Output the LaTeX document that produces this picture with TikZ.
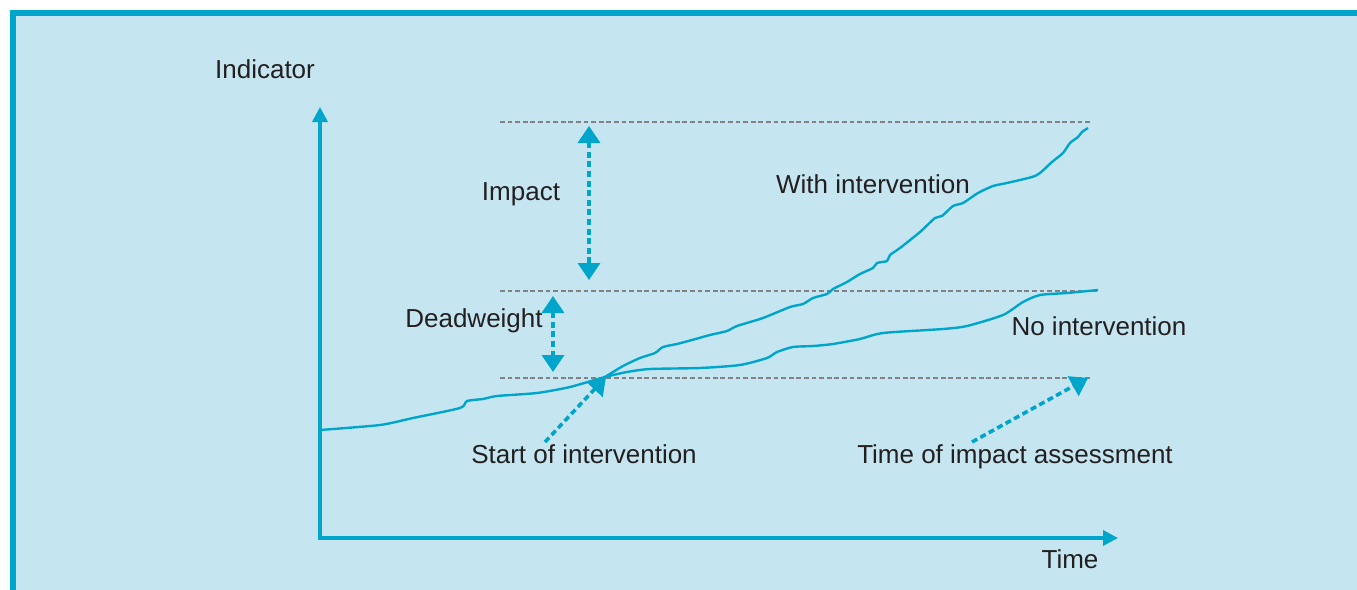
\documentclass[tikz,border=0pt]{standalone}
\usepackage{fontspec}
\setmainfont{Liberation Sans}
\usetikzlibrary{arrows.meta}
\definecolor{boxblue}{HTML}{C5E6F0}
\definecolor{lineblue}{HTML}{00A5CB}
\definecolor{refgray}{HTML}{808285}
\definecolor{txt}{HTML}{231F20}
\tikzset{
  lbl/.style={anchor=base,text=txt,inner sep=0pt,font=\fontsize{13}{15}\selectfont},
  axis/.style={lineblue,line width=1.7pt,line cap=rect,-{Triangle[width=7.5pt,length=7.5pt]}},
  curve/.style={lineblue,line width=1.2pt,line join=round},
  level/.style={refgray,line width=0.9pt,dash pattern=on 2.4pt off 1.4pt},
  gap/.style={lineblue,line width=1.8pt,dash pattern=on 3pt off 1.8pt,
    {Triangle[width=11pt,length=8.5pt]}-{Triangle[width=11pt,length=8.5pt]}},
  pointer/.style={gap,-{Triangle[width=11pt,length=8.5pt]}}
}
\begin{document}
\begin{tikzpicture}[x=0.5pt,y=-0.5pt]
\useasboundingbox (0,0) rectangle (1357,590);
\fill[boxblue](10,10) rectangle (1357,590);
\draw[lineblue,line width=2.8pt](12.7,590)--(12.7,12.7)--(1357,12.7);
% axes
\coordinate (origin) at (320,538);
\coordinate (ytop) at (320,107);
\coordinate (xend) at (1118,538);
\draw[axis] (origin)--(ytop);
\draw[axis] (origin)--(xend);
\node[lbl] (indicator) at (265,78) {Indicator};
\node[lbl] (time) at (1070,568) {Time};
% reference levels
\foreach \y/\e in {122/1092,291/1097,378/1092}
    \draw[level](500,\y)--(\e,\y);
% no intervention
\draw[curve] plot[smooth,tension=0.4] coordinates {(320,430) (380,425) (413,418) (460,408) (467,401) (483,399) (497,396) (537,393) (570,387) (605,377) (627,372) (650,369) (700,368) (740,365) (767,358) (777,352) (793,347) (813,346) (833,344) (860,339) (883,333) (943,329) (967,326) (1003,315) (1023,302) (1040,295) (1067,293) (1098,290)};
% with intervention
\draw[curve] plot[smooth,tension=0.4] coordinates {(605,377) (623,366) (640,358) (655,353) (663,347) (677,344) (692,340) (710,335) (727,331) (737,326) (763,318) (790,307) (803,304) (813,298) (827,294) (833,289) (847,282) (860,274) (873,268) (877,263) (887,261) (890,255) (900,248) (920,232) (935,218) (942,216) (953,206) (963,203) (978,193) (993,186) (1007,183) (1032,177) (1040,173) (1052,162) (1063,153) (1070,143) (1078,137) (1082,132) (1088,128)};
\node[lbl] (with) at (873,193) {With intervention};
\node[lbl] (without) at (1099,335) {No intervention};
% impact and deadweight
\coordinate (imptop) at (589,126);
\coordinate (impbot) at (589,280);
\coordinate (dwtop) at (553,296);
\coordinate (dwbot) at (553,372);
\draw[gap] (imptop)--(impbot);
\draw[gap] (dwtop)--(dwbot);
\node[lbl] (impact) at (521,200) {Impact};
\node[lbl] (deadweight) at (474,327) {Deadweight};
% pointers
\coordinate (start) at (606,377);
\coordinate (starttail) at (545,442);
\coordinate (assess) at (1088,378);
\coordinate (assesstail) at (972,442);
\draw[pointer] (starttail)--(start);
\draw[pointer] (assesstail)--(assess);
\node[lbl] (startlbl) at (584,463) {Start of intervention};
\node[lbl] (assesslbl) at (1015,463) {Time of impact assessment};
\end{tikzpicture}
\end{document}
